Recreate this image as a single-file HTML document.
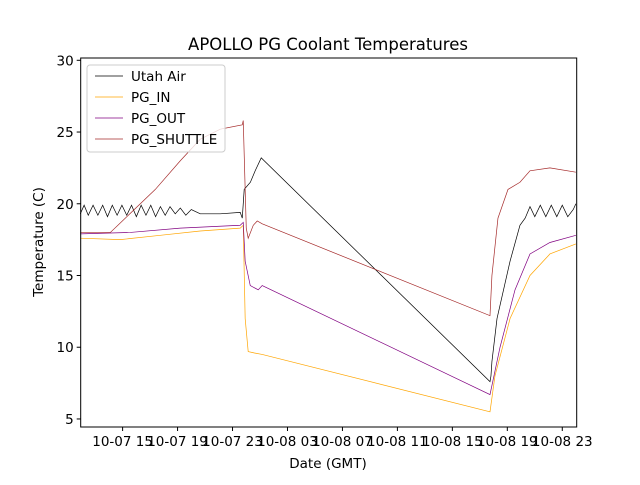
<!DOCTYPE html>
<html><head><meta charset="utf-8"><style>
body{margin:0;background:#fff}
svg{font-family:"DejaVu Sans","Liberation Sans",sans-serif}
</style></head><body>
<svg id="c" width="640" height="480" viewBox="0 0 640 480">
<rect width="640" height="480" fill="#fff"/>
<text x="328" y="50" text-anchor="middle" font-size="16.5" fill="#000">APOLLO PG Coolant Temperatures</text>
<text x="328" y="468" text-anchor="middle" font-size="13.5">Date (GMT)</text>
<text transform="translate(43,242) rotate(-90)" text-anchor="middle" font-size="13.5">Temperature (C)</text>
<g id="plot"></g>
<g id="axes"></g>
</svg>
<script>
// x in hours since 10-07 00:00 GMT
const xTickHours=[15,19,23,27,31,35,39,43,47];
const xTickLabels=["10-07 15","10-07 19","10-07 23","10-08 03","10-08 07","10-08 11","10-08 15","10-08 19","10-08 23"];
const yTicks=[5,10,15,20,25,30];
const seriesNames=["Utah Air","PG_IN","PG_OUT","PG_SHUTTLE"];
const seriesColors=["#000000","#ffa500","#800080","#a52a2a"];
const utahAir=[[11.92,19.3],[12.2,19.9],[12.5,19.2],[12.85,19.9],[13.2,19.2],[13.55,19.9],[13.9,19.1],[14.25,19.9],[14.6,19.2],[14.95,19.9],[15.3,19.2],[15.65,19.9],[16.0,19.1],[16.35,19.9],[16.7,19.2],[17.05,19.9],[17.4,19.1],[17.75,19.8],[18.1,19.2],[18.45,19.8],[18.83,19.3],[19.2,19.7],[19.6,19.2],[20.0,19.6],[20.65,19.3],[22.11,19.3],[23.56,19.4],[23.71,19.0],[23.85,21.0],[24.3,21.5],[24.65,22.3],[25.09,23.2],[41.74,7.6],[41.81,8.0],[41.88,9.0],[42.25,12.0],[43.2,16.0],[43.92,18.5],[44.3,19.0],[44.65,19.8],[45.0,19.1],[45.4,19.9],[45.8,19.1],[46.2,19.9],[46.6,19.1],[47.0,19.9],[47.4,19.1],[47.8,19.6],[47.99,20.0]];
const pgIn=[[11.92,17.6],[14.83,17.5],[17.74,17.8],[20.65,18.1],[23.56,18.3],[23.78,18.5],[23.92,12.0],[24.14,9.7],[24.6,9.6],[25.16,9.5],[41.74,5.5],[42.1,8.0],[43.2,12.0],[44.65,15.0],[46.1,16.5],[47.99,17.2]];
const pgOut=[[11.92,17.9],[15.56,18.0],[19.2,18.3],[23.56,18.5],[23.78,18.7],[23.92,16.0],[24.29,14.3],[24.87,14.0],[25.16,14.3],[41.74,6.7],[42.47,10.0],[43.56,14.0],[44.65,16.5],[46.1,17.3],[47.99,17.8]];
const pgShuttle=[[11.92,18.0],[14.11,18.0],[15.2,19.0],[17.38,21.0],[19.2,23.0],[20.65,24.5],[22.11,25.2],[23.71,25.5],[23.78,25.8],[24.0,18.3],[24.14,17.6],[24.51,18.5],[24.8,18.8],[25.16,18.6],[41.74,12.2],[41.88,15.0],[42.32,19.0],[43.05,21.0],[43.92,21.5],[44.65,22.3],[46.1,22.5],[47.99,22.2]];
const allSeries=[utahAir,pgIn,pgOut,pgShuttle];

const L=80.7,R=576.7,T=58,B=427;
const xMin=11.95,xMax=48.05,yMin=4.44,yMax=30.16;
const sx=h=>L+(h-xMin)/(xMax-xMin)*(R-L);
const sy=v=>B-(v-yMin)/(yMax-yMin)*(B-T);
const NS="http://www.w3.org/2000/svg";
const plot=document.getElementById('plot'),axes=document.getElementById('axes');
function mk(tag,attrs,parent){const e=document.createElementNS(NS,tag);for(const k in attrs)e.setAttribute(k,attrs[k]);parent.appendChild(e);return e;}

allSeries.forEach((s,i)=>{
  const p=mk('polyline',{points:s.map(d=>sx(d[0]).toFixed(2)+','+sy(d[1]).toFixed(2)).join(' '),fill:'none',stroke:seriesColors[i],'stroke-width':0.7},plot);
  
  
});

const frame=mk('rect',{x:L,y:T,width:R-L,height:B-T,fill:'none',stroke:'#000','stroke-width':1},axes);



xTickHours.forEach((h,i)=>{
  const x=sx(h);
  const t=mk('line',{x1:x,x2:x,y1:B,y2:B+4,stroke:'#000','stroke-width':1},axes);
  
  
  const tx=mk('text',{x:x,y:B+19,'text-anchor':'middle','font-size':13.5},axes);
  tx.textContent=xTickLabels[i];
  
  
});
yTicks.forEach(v=>{
  const y=sy(v);
  const t=mk('line',{x1:L-4,x2:L,y1:y,y2:y,stroke:'#000','stroke-width':1},axes);
  
  
  const tx=mk('text',{x:L-7,y:y+5,'text-anchor':'end','font-size':13.5},axes);
  tx.textContent=v;
  
  
});

const lg=mk('g',{},axes);


mk('rect',{x:87,y:65,width:138,height:87,rx:3,fill:'#fff','fill-opacity':0.8,stroke:'#ccc','stroke-width':1},lg);
seriesNames.forEach((n,i)=>{
  const y=76+i*21;
  const g=mk('g',{},lg);
  
  
  mk('line',{x1:95,x2:123,y1:y,y2:y,stroke:seriesColors[i],'stroke-width':0.8},g);
  const t=mk('text',{x:131,y:y+5,'font-size':13.5},g);
  t.textContent=n;
});
</script>
</body></html>
